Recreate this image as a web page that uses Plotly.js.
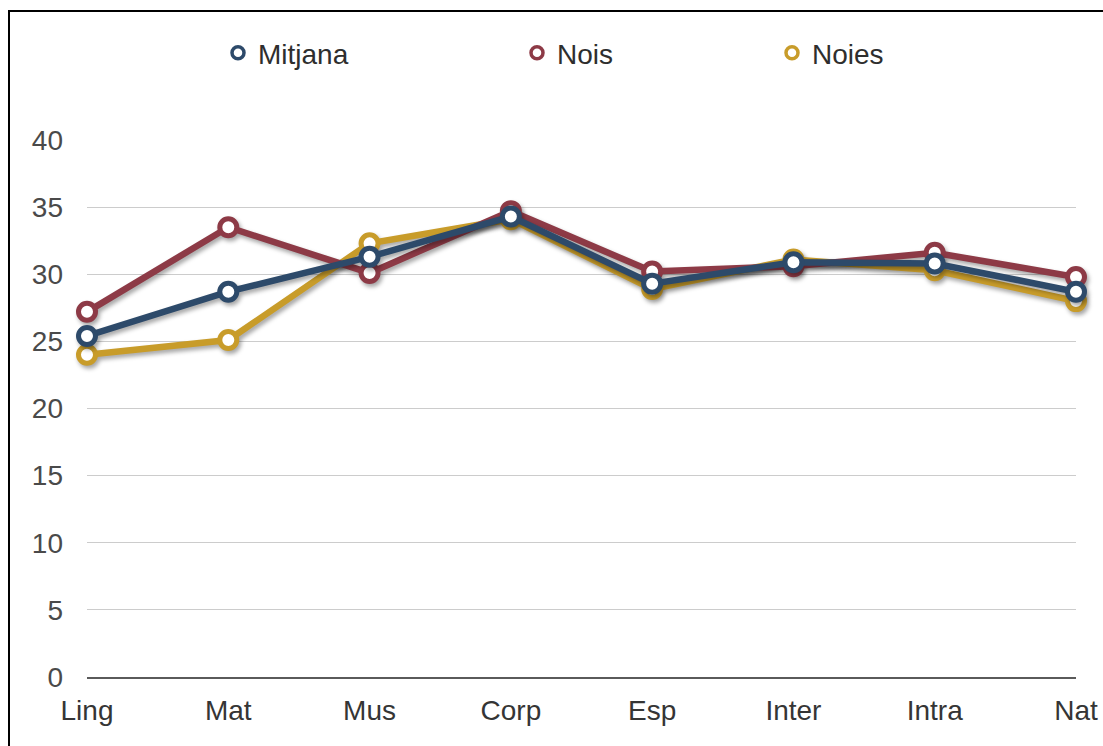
<!DOCTYPE html>
<html>
<head>
<meta charset="utf-8">
<script src="https://cdn.plot.ly/plotly-3.0.1.min.js"></script>
<style>
  html, body { margin: 0; padding: 0; background: #fff; }
  #chart { width: 1103px; height: 746px; position: absolute; left: 0; top: 0; }
  #frame { position: absolute; left: 8px; top: 10px; width: 1200px; height: 800px;
           border-top: 2px solid #000; border-left: 2px solid #000; pointer-events: none; }
  .scatterlayer .trace { filter: drop-shadow(2px 3px 2px rgba(0,0,0,0.35)); }
</style>
</head>
<body>
<div id="chart"></div>
<div id="frame"></div>
<script>
const categories = ["Ling", "Mat", "Mus", "Corp", "Esp", "Inter", "Intra", "Nat"];
const seriesNames = ["Mitjana", "Nois", "Noies"];
const mitjana = [25.4, 28.7, 31.3, 34.3, 29.3, 30.9, 30.8, 28.7];
const nois    = [27.2, 33.5, 30.1, 34.7, 30.2, 30.6, 31.6, 29.8];
const noies   = [24.0, 25.1, 32.3, 34.1, 28.9, 31.1, 30.3, 28.0];
const yTicks = [0, 5, 10, 15, 20, 25, 30, 35, 40];

const colors = { Mitjana: "#2d4a6a", Nois: "#8d3a46", Noies: "#c89c2a" };
const values = { Mitjana: mitjana, Nois: nois, Noies: noies };

const drawOrder = ["Noies", "Nois", "Mitjana"];
const traces = drawOrder.map(name => ({
  type: "scatter", mode: "lines+markers", name: name,
  x: categories, y: values[name], showlegend: false, cliponaxis: false,
  line: { color: colors[name], width: 6.5 },
  marker: { symbol: "circle", size: 17, color: "#ffffff", line: { color: colors[name], width: 5 } },
  hoverinfo: "x+y+name"
}));

const legendIds = ["legend", "legend2", "legend3"];
seriesNames.forEach((name, i) => {
  traces.push({
    type: "scatter", mode: "markers", name: name, x: [null], y: [null],
    legend: legendIds[i], showlegend: true,
    marker: { symbol: "circle", size: 12, color: "#ffffff", line: { color: colors[name], width: 3.5 } }
  });
});

const fam = "Liberation Sans, Arial, sans-serif";
const legFont = { family: fam, size: 28, color: "#2e2e2e" };
const legendBase = { orientation: "h", yanchor: "middle", y: 1.162, xanchor: "left",
  font: legFont, bgcolor: "rgba(0,0,0,0)", itemwidth: 30, tracegroupgap: 0 };

const layout = {
  width: 1103, height: 746,
  margin: { l: 87, r: 27, t: 140, b: 69 },
  paper_bgcolor: "#ffffff", plot_bgcolor: "#ffffff",
  font: { family: fam },
  xaxis: {
    type: "category", range: [0, categories.length - 1],
    showgrid: false, zeroline: false, showline: true, linecolor: "#5a5a5a", linewidth: 2,
    ticks: "", ticklabelstandoff: 7,
    tickfont: { family: fam, size: 28, color: "#353535" }
  },
  yaxis: {
    range: [0, 40], tickvals: yTicks, ticktext: yTicks.map(String),
    showgrid: true, gridcolor: "#cccccc", gridwidth: 1, zeroline: false, showline: false,
    ticks: "", ticklabelstandoff: 23,
    tickfont: { family: fam, size: 28, color: "#4a4a4a" }
  },
  legend: Object.assign({}, legendBase, { x: (218 - 87) / 989 }),
  legend2: Object.assign({}, legendBase, { x: (517 - 87) / 989 }),
  legend3: Object.assign({}, legendBase, { x: (772 - 87) / 989 }),
  showlegend: true
};

Plotly.newPlot("chart", traces, layout, { displayModeBar: false, staticPlot: true });
</script>
</body>
</html>
